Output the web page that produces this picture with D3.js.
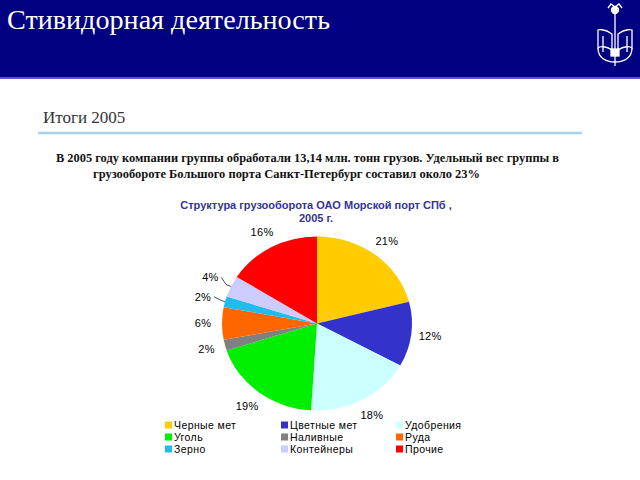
<!DOCTYPE html>
<html><head><meta charset="utf-8">
<script src="https://cdn.jsdelivr.net/npm/d3@7"></script>
<style>body{margin:0;background:#fff}svg{display:block}</style>
</head><body>
<svg id="c" width="640" height="480"></svg>
<script>
const categories = ["Черные мет","Цветные мет","Удобрения","Уголь","Наливные","Руда","Зерно","Контейнеры","Прочие"];
const shares = [21,12,18,19,2,6,2,4,16];
const colors = ["#FFCC00","#3333CC","#CCFFFF","#00EE00","#808080","#FF6600","#22BBEE","#CCCCFF","#FF0000"];
const leaderCats = ["Зерно","Контейнеры"];
const headerTitle = "Стивидорная деятельность";
const subTitle = "Итоги 2005";
const bodyLines = ["В 2005 году компании группы обработали 13,14 млн. тонн грузов. Удельный вес группы в",
                   "грузообороте Большого порта Санкт-Петербург составил около 23%"];
const chartTitle = ["Структура грузооборота ОАО Морской порт СПб ,","2005 г."];

const svg = d3.select("#c");
// header
svg.append("rect").attr("x",0).attr("y",0).attr("width",640).attr("height",78).attr("fill","#000080");
svg.append("rect").attr("x",0).attr("y",77).attr("width",640).attr("height",2).attr("fill","#5a5ab8");
svg.append("text").attr("x",7).attr("y",29).attr("fill","#fff")
  .attr("font-family","'Liberation Serif','Times New Roman',serif").attr("font-size",26.5)
  .attr("textLength",323).attr("lengthAdjust","spacingAndGlyphs").text(headerTitle);
// logo
const lg = svg.append("g").attr("fill","none").attr("stroke","#fff").attr("stroke-width",1.3);
lg.append("line").attr("x1",615).attr("y1",14).attr("x2",615).attr("y2",66);
lg.append("circle").attr("cx",615).attr("cy",10).attr("r",3.5).attr("fill","#fff");
lg.append("path").attr("d","M608,8 L611,4 L615,7 L619,4 L622,8");
lg.append("path").attr("d","M598,30 C598,30 604,28 612,34 L612,50 C606,46 600,46 598,48 Z");
lg.append("path").attr("d","M632,30 C632,30 626,28 618,34 L618,50 C624,46 630,46 632,48 Z");
lg.append("path").attr("d","M598,48 C598,58 606,62 615,62 C624,62 632,58 632,48");
lg.append("path").attr("d","M603,36 L603,52 M627,36 L627,52");
lg.append("rect").attr("x",611).attr("y",49).attr("width",8).attr("height",7).attr("fill","#fff");

// subtitle and rule
svg.append("text").attr("x",43).attr("y",123).attr("fill","#333")
  .attr("font-family","'Liberation Serif','Times New Roman',serif").attr("font-size",17).text(subTitle);
svg.append("line").attr("x1",38).attr("x2",582).attr("y1",133).attr("y2",133)
  .attr("stroke","#A8CFF0").attr("stroke-width",2.5);
// body text
const bodyX = [56,93], bodyY=[162,178], bodyW=[503,387];
bodyLines.forEach((t,i)=>{
  svg.append("text").attr("x",bodyX[i]).attr("y",bodyY[i]).attr("fill","#111")
    .attr("font-family","'Liberation Serif','Times New Roman',serif").attr("font-weight","bold")
    .attr("font-size",12.5).attr("textLength",bodyW[i]).attr("lengthAdjust","spacingAndGlyphs").text(t);
});
// chart title
chartTitle.forEach((t,i)=>{
  svg.append("text").attr("x",316).attr("y",209+i*12.5).attr("text-anchor","middle").attr("fill","#333399")
    .attr("font-family","'Liberation Sans',Arial,sans-serif").attr("font-weight","bold").attr("font-size",11).text(t);
});

// pie
const cx=317, cy=323.5, rx=95, ry=87;
const pie = d3.pie().sort(null).value(d=>d)(shares);
const arc = d3.arc().innerRadius(0).outerRadius(rx);
const pg = svg.append("g").attr("transform",`translate(${cx},${cy}) scale(1,${ry/rx})`);
pg.selectAll("path").data(pie).join("path").attr("d",arc).attr("fill",(d,i)=>colors[i]);

pie.forEach((d,i)=>{
  const a=(d.startAngle+d.endAngle)/2;
  const leader = leaderCats.includes(categories[i]);
  const r = leader ? 1.24 : 1.2;
  const tx = cx + Math.sin(a)*rx*r, ty = cy - Math.cos(a)*ry*r;
  if(leader){
    const ex = cx + Math.sin(a)*rx, ey = cy - Math.cos(a)*ry;
    svg.append("path").attr("d",`M${tx+11},${ty} L${ex-5},${ey-2} L${ex},${ey}`)
      .attr("fill","none").attr("stroke","#000").attr("stroke-width",0.7);
  }
  svg.append("text").attr("x",tx).attr("y",ty).attr("dy","0.35em").attr("text-anchor","middle")
    .attr("font-family","'Liberation Sans',Arial,sans-serif").attr("font-size",11).attr("letter-spacing",0.3).attr("fill","#000")
    .text(shares[i]+"%");
});

// legend
const colX=[165,281,396], rowY=[425,437,449];
categories.forEach((c,i)=>{
  const x=colX[i%3], y=rowY[Math.floor(i/3)];
  svg.append("rect").attr("x",x).attr("y",y-3.5).attr("width",7).attr("height",7).attr("fill",colors[i]);
  svg.append("text").attr("x",x+9).attr("y",y).attr("dy","0.35em").attr("letter-spacing",0.4)
    .attr("font-family","'Liberation Sans',Arial,sans-serif").attr("font-size",10.5).attr("fill","#000").text(c);
});
</script>
</body></html>
